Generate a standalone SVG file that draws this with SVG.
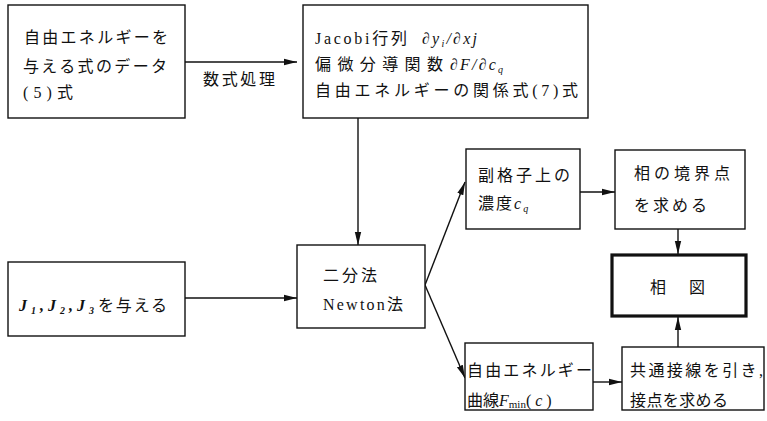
<svg xmlns="http://www.w3.org/2000/svg" width="767" height="421" viewBox="0 0 767 421">
<style>
.box{fill:#fff;stroke:#111;stroke-width:1.4}
.thick{fill:#fff;stroke:#111;stroke-width:3.2}
.t{font-family:"Liberation Serif","Noto Sans CJK JP",serif;font-size:16px;fill:#111}
.m{font-family:"Liberation Serif",serif;font-style:italic}
.c{fill:none;stroke:#111;stroke-width:1.4}
</style>
<defs>
<marker id="ah" markerUnits="userSpaceOnUse" markerWidth="14" markerHeight="8" refX="13" refY="4" orient="auto">
<path d="M0,0.8 L13,4 L0,7.2 Z" fill="#111"/>
</marker>
</defs>
<rect width="767" height="421" fill="#fff"/>
<g id="connectors">
<line class="c" x1="185" y1="62" x2="297" y2="62" marker-end="url(#ah)"/>
<line class="c" x1="358" y1="118" x2="358" y2="245" marker-end="url(#ah)"/>
<line class="c" x1="185" y1="298" x2="297" y2="298" marker-end="url(#ah)"/>
<line class="c" x1="425" y1="285" x2="465" y2="182" marker-end="url(#ah)"/>
<line class="c" x1="425" y1="285" x2="465" y2="378" marker-end="url(#ah)"/>
<line class="c" x1="580" y1="192" x2="615" y2="192" marker-end="url(#ah)"/>
<line class="c" x1="678" y1="229" x2="678" y2="254" marker-end="url(#ah)"/>
<line class="c" x1="593" y1="382" x2="622" y2="382" marker-end="url(#ah)"/>
<line class="c" x1="678" y1="347" x2="678" y2="317" marker-end="url(#ah)"/>
<text class="t" x="203" y="85" textLength="72" lengthAdjust="spacing">数式処理</text>
</g>
<g id="n1">
<rect class="box" x="8" y="5" width="177" height="113"/>
<text class="t" x="24" y="43" textLength="144" lengthAdjust="spacing">自由エネルギーを</text>
<text class="t" x="23" y="72" textLength="144" lengthAdjust="spacing">与える式のデータ</text>
<text class="t" x="23" y="98" textLength="50" lengthAdjust="spacing">(5)式</text>
</g>
<g id="n2">
<rect class="box" x="303" y="5" width="285" height="113"/>
<text class="t" x="315" y="44" textLength="92" lengthAdjust="spacing">Jacobi行列</text>
<text class="t m" x="422" y="44" font-size="18" textLength="55" lengthAdjust="spacing">∂y<tspan font-size="10" dy="3">i</tspan><tspan dy="-3">/∂xj</tspan></text>
<text class="t" x="315" y="70" textLength="128" lengthAdjust="spacing">偏微分導関数</text>
<text class="t m" x="450" y="70" font-size="18" textLength="53" lengthAdjust="spacing">∂F/∂c<tspan font-size="10" dy="3">q</tspan></text>
<text class="t" x="315" y="96" textLength="263" lengthAdjust="spacing">自由エネルギーの関係式(7)式</text>
</g>
<g id="n3">
<rect class="box" x="297" y="245" width="128" height="83"/>
<text class="t" x="323" y="281" textLength="54" lengthAdjust="spacing">二分法</text>
<text class="t" x="323" y="310" textLength="80" lengthAdjust="spacing">Newton法</text>
</g>
<g id="n4">
<rect class="box" x="8" y="262" width="177" height="74"/>
<text class="t m" x="19" y="311" font-weight="bold" font-size="17" textLength="75" lengthAdjust="spacing">J<tspan font-size="10" dy="3">1</tspan><tspan dy="-3">,J</tspan><tspan font-size="10" dy="3">2</tspan><tspan dy="-3">,J</tspan><tspan font-size="10" dy="3">3</tspan></text>
<text class="t" x="98" y="311" textLength="69" lengthAdjust="spacing">を与える</text>
</g>
<g id="n5">
<rect class="box" x="466" y="149" width="114" height="80"/>
<text class="t" x="478" y="181" textLength="92" lengthAdjust="spacing">副格子上の</text>
<text class="t" x="478" y="209" letter-spacing="2">濃度<tspan class="m">c<tspan font-size="10" dy="3">q</tspan></tspan></text>
</g>
<g id="n6">
<rect class="box" x="615" y="150" width="130" height="79"/>
<text class="t" x="634" y="179" textLength="96" lengthAdjust="spacing">相の境界点</text>
<text class="t" x="634" y="211" textLength="73" lengthAdjust="spacing">を求める</text>
</g>
<g id="n7">
<rect class="thick" x="612" y="255" width="134" height="61"/>
<text class="t" x="650" y="293">相</text>
<text class="t" x="689" y="293">図</text>
</g>
<g id="n8">
<rect class="box" x="465" y="343" width="128" height="67"/>
<text class="t" x="467" y="376" textLength="125" lengthAdjust="spacing">自由エネルギー</text>
<text class="t" x="467" y="406">曲線<tspan class="m">F</tspan><tspan font-size="11" dy="2">min</tspan><tspan dy="-2">( </tspan><tspan class="m">c</tspan> )</text>
</g>
<g id="n9">
<rect class="box" x="622" y="347" width="142" height="63"/>
<text class="t" x="630" y="376" textLength="133" lengthAdjust="spacing">共通接線を引き,</text>
<text class="t" x="630" y="406" textLength="98" lengthAdjust="spacing">接点を求める</text>
</g>
</svg>
